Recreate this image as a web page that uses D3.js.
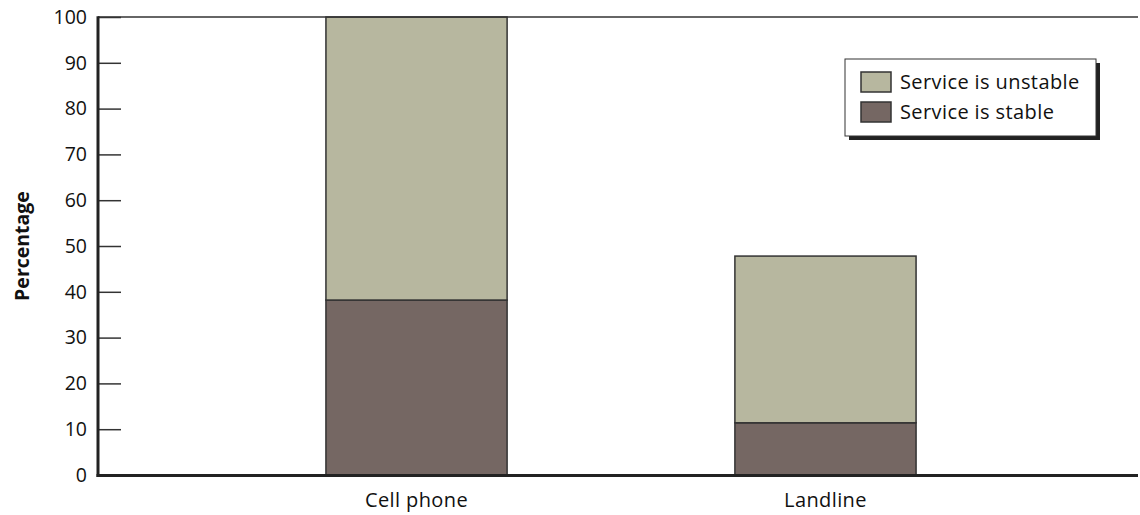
<!DOCTYPE html>
<html>
<head>
<meta charset="utf-8">
<script src="https://cdn.jsdelivr.net/npm/d3@7"></script>
<style>
  body { margin: 0; background: #fff; }
  text { font-family: "Open Sans", "Noto Sans", sans-serif; fill: #111; }
</style>
</head>
<body>
<div id="chart"></div>
<script>
// Data
const categories = ['Cell phone', 'Landline'];
const stable = [38.2, 11.4];
const unstable = [61.8, 36.4];
const seriesNames = ['Service is unstable', 'Service is stable'];
const yTicks = [0, 10, 20, 30, 40, 50, 60, 70, 80, 90, 100];

const W = 1140, H = 515;
const plotLeft = 98, plotRight = 1138, plotTop = 17, plotBottom = 475;

const svg = d3.select('#chart').append('svg')
    .attr('width', W)
    .attr('height', H);

const x = d3.scaleBand()
    .domain(categories)
    .range([plotLeft + 3, plotRight + 3])
    .paddingInner(0.557)
    .paddingOuter(0.55);

const y = d3.scaleLinear()
    .domain([0, 100])
    .range([plotBottom, plotTop]);

const colors = { stable: '#756763', unstable: '#b7b79f' };

const rows = categories.map((c, i) => ({ cat: c, stable: stable[i], unstable: unstable[i] }));
const stack = d3.stack().keys(['stable', 'unstable'])(rows);

// bars
svg.append('g').selectAll('g')
    .data(stack)
    .join('g')
    .attr('fill', d => colors[d.key])
    .selectAll('rect')
    .data(d => d)
    .join('rect')
    .attr('x', d => x(d.data.cat))
    .attr('width', x.bandwidth())
    .attr('y', d => y(d[1]))
    .attr('height', d => y(d[0]) - y(d[1]))
    .attr('stroke', '#333')
    .attr('stroke-width', 1.5);

// top frame line
svg.append('line')
    .attr('x1', plotLeft).attr('x2', plotRight)
    .attr('y1', y(100)).attr('y2', y(100))
    .attr('stroke', '#333').attr('stroke-width', 1.5);

// y axis, ticks drawn inward
const yAxis = svg.append('g')
    .attr('transform', `translate(${plotLeft},0)`)
    .call(d3.axisRight(y).tickValues(yTicks).tickSize(23).tickFormat(d3.format('d')));
yAxis.select('.domain').remove();
yAxis.selectAll('.tick line').attr('stroke', '#333').attr('stroke-width', 1.5);
yAxis.selectAll('.tick text')
    .attr('x', -11)
    .attr('text-anchor', 'end')
    .attr('font-size', 19.5)
    .attr('font-family', null);

svg.append('line')
    .attr('x1', plotLeft).attr('x2', plotLeft)
    .attr('y1', plotTop - 0.75).attr('y2', plotBottom + 2)
    .attr('stroke', '#222').attr('stroke-width', 3);

// x axis
const xAxis = svg.append('g')
    .attr('transform', `translate(0,${plotBottom})`)
    .call(d3.axisBottom(x).tickSize(0));
xAxis.select('.domain').remove();
xAxis.selectAll('.tick text')
    .attr('y', 32)
    .attr('dy', 0)
    .attr('font-size', 20)
    .attr('letter-spacing', 0.4)
    .attr('font-family', null);

svg.append('line')
    .attr('x1', plotLeft - 1.5).attr('x2', plotRight)
    .attr('y1', plotBottom + 0.5).attr('y2', plotBottom + 0.5)
    .attr('stroke', '#222').attr('stroke-width', 3);

// y title
svg.append('text')
    .attr('transform', `translate(29,${(plotTop + plotBottom) / 2}) rotate(-90)`)
    .attr('text-anchor', 'middle')
    .attr('font-size', 19.5)
    .attr('font-weight', 'bold')
    .text('Percentage');

// legend
const lg = svg.append('g').attr('transform', 'translate(845,59)');
lg.append('rect')
    .attr('x', 4).attr('y', 4)
    .attr('width', 251).attr('height', 77)
    .attr('fill', '#222');
lg.append('rect')
    .attr('width', 251).attr('height', 77)
    .attr('fill', '#fff')
    .attr('stroke', '#333').attr('stroke-width', 1);
const legendColors = [colors.unstable, colors.stable];
seriesNames.forEach((name, i) => {
    lg.append('rect')
        .attr('x', 16).attr('y', 13 + i * 30)
        .attr('width', 30).attr('height', 20)
        .attr('fill', legendColors[i])
        .attr('stroke', '#333').attr('stroke-width', 1.5);
    lg.append('text')
        .attr('x', 55).attr('y', 30 + i * 30)
        .attr('font-size', 20)
        .attr('letter-spacing', 0.4)
        .text(name);
});
</script>
</body>
</html>
